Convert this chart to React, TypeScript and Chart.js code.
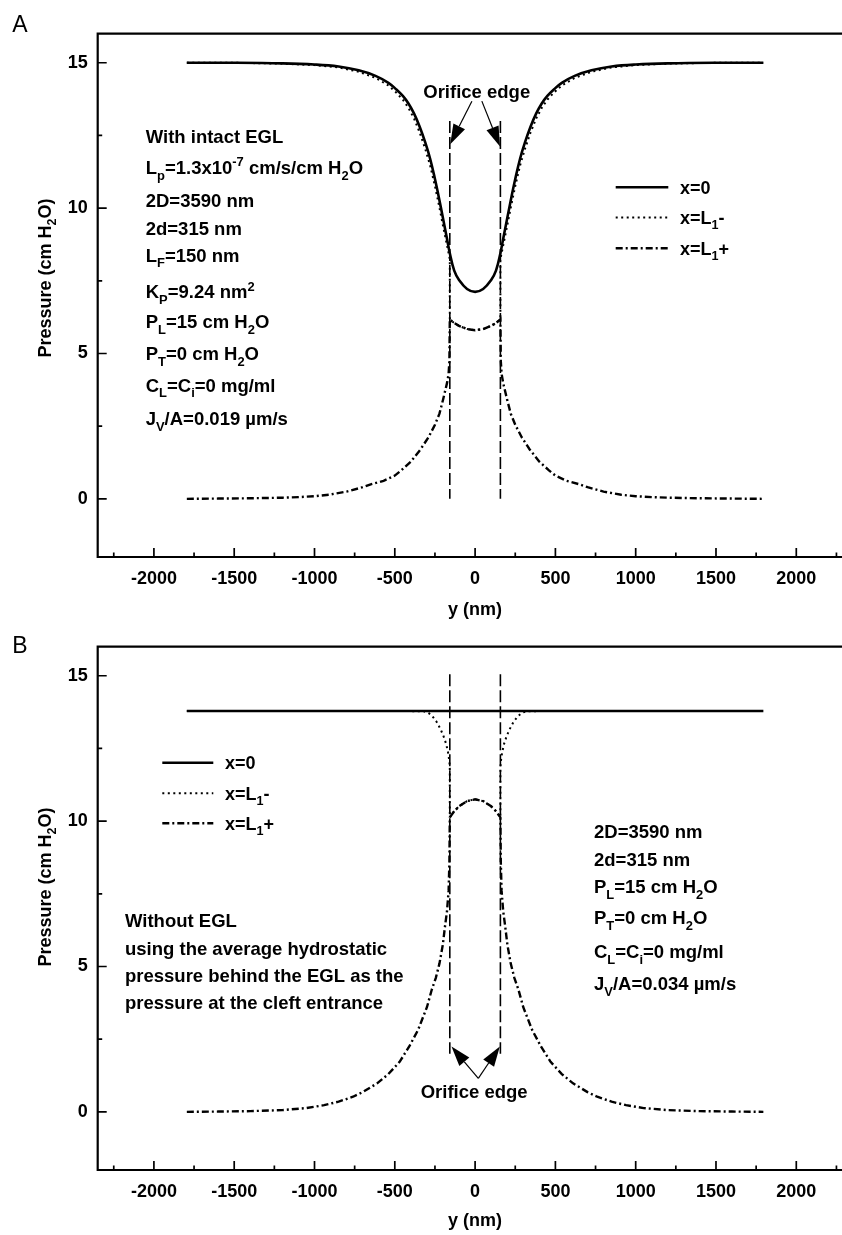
import React, { useEffect, useRef } from "react";
import { Chart, registerables } from "chart.js";

Chart.register(...registerables);

const FONT = '"Liberation Sans", Arial, Helvetica, sans-serif';

// ---- axes ----
const xRange = [-2350, 2350];
const yRange = [-2, 16];
const xTicks = [-2000, -1500, -1000, -500, 0, 500, 1000, 1500, 2000];
const xMinorTicks = [-2250, -1750, -1250, -750, -250, 250, 750, 1250, 1750, 2250];
const yTicks = [0, 5, 10, 15];
const yMinorTicks = [2.5, 7.5, 12.5];

// orifice edges, y = ±d (2d = 315 nm)
const orificeEdges = [-157.5, 157.5];
const orificeSpanA = [13.0, 0];
const orificeSpanB = [15.05, 2.0];

// ---- panel A: with intact EGL ----
const posA0 = [-1795, -1500, -1200, -1000, -850, -725, -620, -540, -490, -450, -415, -380, -345, -310, -280, -250, -225, -200, -175, -157.5, -130, -100, -50, 0, 50, 100, 130, 157.5, 175, 200, 225, 250, 280, 310, 345, 380, 415, 450, 490, 540, 620, 725, 850, 1000, 1200, 1500, 1795];
const valA0 = [15.0, 15.0, 14.98, 14.94, 14.87, 14.74, 14.55, 14.31, 14.08, 13.86, 13.6, 13.25, 12.8, 12.25, 11.7, 11.0, 10.35, 9.65, 8.95, 8.45, 7.85, 7.53, 7.22, 7.12, 7.22, 7.53, 7.85, 8.45, 8.95, 9.65, 10.35, 11.0, 11.7, 12.25, 12.8, 13.25, 13.6, 13.86, 14.08, 14.31, 14.55, 14.74, 14.87, 14.94, 14.98, 15.0, 15.0];

const posAMinus = [-1795, -1500, -1200, -1000, -850, -725, -620, -540, -490, -450, -415, -380, -345, -310, -280, -250, -225, -200, -175, -157.5, -157.5, -130, -100, -50, 0, 50, 100, 130, 157.5, 157.5, 175, 200, 225, 250, 280, 310, 345, 380, 415, 450, 490, 540, 620, 725, 850, 1000, 1200, 1500, 1795];
const valAMinus = [15.0, 15.0, 14.97, 14.92, 14.84, 14.69, 14.48, 14.22, 13.97, 13.73, 13.45, 13.08, 12.6, 12.03, 11.47, 10.76, 10.1, 9.4, 8.72, 8.25, 6.17, 6.05, 5.95, 5.84, 5.8, 5.84, 5.95, 6.05, 6.17, 8.25, 8.72, 9.4, 10.1, 10.76, 11.47, 12.03, 12.6, 13.08, 13.45, 13.73, 13.97, 14.22, 14.48, 14.69, 14.84, 14.92, 14.97, 15.0, 15.0];

const posAPlus = [-1795, -1600, -1400, -1200, -1100, -1000, -910, -800, -700, -650, -570, -500, -460, -400, -340, -290, -250, -222, -200, -175, -165, -160, -157.5, -130, -100, -50, 0, 50, 100, 130, 157.5, 160, 165, 175, 200, 222, 250, 290, 340, 400, 460, 500, 570, 650, 700, 800, 910, 1000, 1100, 1200, 1400, 1600, 1795];
const valAPlus = [0, 0.01, 0.02, 0.04, 0.06, 0.09, 0.14, 0.25, 0.4, 0.5, 0.62, 0.8, 0.98, 1.28, 1.7, 2.12, 2.55, 2.93, 3.4, 3.98, 4.3, 4.75, 6.17, 6.05, 5.95, 5.84, 5.8, 5.84, 5.95, 6.05, 6.17, 4.75, 4.3, 3.98, 3.4, 2.93, 2.55, 2.12, 1.7, 1.28, 0.98, 0.8, 0.62, 0.5, 0.4, 0.25, 0.14, 0.09, 0.06, 0.04, 0.02, 0.01, 0];

// ---- panel B: without EGL ----
const posB0 = [-1795, -900, 0, 900, 1795];
const valB0 = [13.79, 13.79, 13.79, 13.79, 13.79];

const posBMinus = [-1795, -1000, -500, -320, -290, -265, -240, -214, -195, -180, -168, -160, -157.5, -157.5, -130, -100, -50, 0, 50, 100, 130, 157.5, 157.5, 160, 168, 180, 195, 214, 240, 265, 290, 320, 500, 1000, 1795];
const valBMinus = [13.79, 13.79, 13.79, 13.78, 13.72, 13.6, 13.42, 13.15, 12.9, 12.65, 12.35, 12.05, 11.8, 10.13, 10.34, 10.51, 10.69, 10.75, 10.69, 10.51, 10.34, 10.13, 11.8, 12.05, 12.35, 12.65, 12.9, 13.15, 13.42, 13.6, 13.72, 13.78, 13.79, 13.79, 13.79];

const posBPlus = [-1795, -1600, -1400, -1200, -1050, -940, -850, -760, -700, -610, -540, -470, -410, -355, -300, -270, -245, -222, -201, -187, -175, -165, -160, -157.5, -130, -100, -50, 0, 50, 100, 130, 157.5, 160, 165, 175, 187, 201, 222, 245, 270, 300, 355, 410, 470, 540, 610, 700, 760, 850, 940, 1050, 1200, 1400, 1600, 1795];
const valBPlus = [0, 0.01, 0.025, 0.06, 0.13, 0.23, 0.35, 0.52, 0.68, 0.98, 1.3, 1.72, 2.25, 2.82, 3.6, 4.2, 4.6, 5.1, 5.75, 6.4, 6.9, 7.6, 8.6, 10.13, 10.34, 10.51, 10.69, 10.75, 10.69, 10.51, 10.34, 10.13, 8.6, 7.6, 6.9, 6.4, 5.75, 5.1, 4.6, 4.2, 3.6, 2.82, 2.25, 1.72, 1.3, 0.98, 0.68, 0.52, 0.35, 0.23, 0.13, 0.06, 0.025, 0.01, 0];

// ---- text ----
type Seg = [string, string]; // [text, "" | "sub" | "sup"]

const legendLabels: Seg[][] = [
  [["x=0", ""]],
  [["x=L", ""], ["1", "sub"], ["-", ""]],
  [["x=L", ""], ["1", "sub"], ["+", ""]],
];

const yTitle: Seg[] = [["Pressure (cm H", ""], ["2", "sub"], ["O)", ""]];
const xTitle: Seg[] = [["y (nm)", ""]];
const orificeText: Seg[] = [["Orifice edge", ""]];

const notesA: Seg[][] = [
  [["With intact EGL", ""]],
  [["L", ""], ["p", "sub"], ["=1.3x10", ""], ["-7", "sup"], [" cm/s/cm H", ""], ["2", "sub"], ["O", ""]],
  [["2D=3590 nm", ""]],
  [["2d=315 nm", ""]],
  [["L", ""], ["F", "sub"], ["=150 nm", ""]],
  [["K", ""], ["P", "sub"], ["=9.24 nm", ""], ["2", "sup"]],
  [["P", ""], ["L", "sub"], ["=15 cm H", ""], ["2", "sub"], ["O", ""]],
  [["P", ""], ["T", "sub"], ["=0 cm H", ""], ["2", "sub"], ["O", ""]],
  [["C", ""], ["L", "sub"], ["=C", ""], ["i", "sub"], ["=0 mg/ml", ""]],
  [["J", ""], ["V", "sub"], ["/A=0.019 µm/s", ""]],
];

const notesBLeft: Seg[][] = [
  [["Without EGL", ""]],
  [["using the average hydrostatic", ""]],
  [["pressure behind the EGL as the", ""]],
  [["pressure at the cleft entrance", ""]],
];

const notesBRight: Seg[][] = [
  [["2D=3590 nm", ""]],
  [["2d=315 nm", ""]],
  [["P", ""], ["L", "sub"], ["=15 cm H", ""], ["2", "sub"], ["O", ""]],
  [["P", ""], ["T", "sub"], ["=0 cm H", ""], ["2", "sub"], ["O", ""]],
  [["C", ""], ["L", "sub"], ["=C", ""], ["i", "sub"], ["=0 mg/ml", ""]],
  [["J", ""], ["V", "sub"], ["/A=0.034 µm/s", ""]],
];

type Style = "solid" | "dot" | "dashdot";

interface Series {
  pos: number[];
  val: number[];
  style: Style;
  tension: number;
}

interface Block {
  lines: Seg[][];
  x: number;
  ys: number[];
}

interface Arrow {
  tail: [number, number];
  tip: [number, number];
}

interface PanelSpec {
  letter: string;
  letterY: number;
  width: number;
  height: number;
  padTop: number;
  xAxisHeight: number;
  series: Series[];
  orificeSpan: number[];
  blocks: Block[];
  legend: { x0: number; x1: number; tx: number; ys: number[] };
  yTitleY: number;
  xTitleY: number;
  orificeLabel: { x: number; y: number };
  arrows: Arrow[];
}

const LINE_STYLES: Record<Style, { w: number; dash: number[] }> = {
  solid: { w: 2.6, dash: [] },
  dot: { w: 2, dash: [2, 3.5] },
  dashdot: { w: 2.4, dash: [7, 3, 2, 3] },
};

const TXT = 18.5;

function richWidth(ctx: CanvasRenderingContext2D, segs: Seg[], size: number) {
  let w = 0;
  for (const [t, k] of segs) {
    ctx.font = `bold ${k ? size * 0.7 : size}px ${FONT}`;
    w += ctx.measureText(t).width;
  }
  return w;
}

function drawRich(
  ctx: CanvasRenderingContext2D,
  segs: Seg[],
  x: number,
  y: number,
  size: number,
  align: "left" | "center" = "left"
) {
  ctx.textAlign = "left";
  ctx.textBaseline = "alphabetic";
  let cx = align === "center" ? x - richWidth(ctx, segs, size) / 2 : x;
  for (const [t, k] of segs) {
    const s = k ? size * 0.7 : size;
    ctx.font = `bold ${s}px ${FONT}`;
    const dy = k === "sub" ? size * 0.3 : k === "sup" ? -size * 0.42 : 0;
    ctx.fillText(t, cx, y + dy);
    cx += ctx.measureText(t).width;
  }
}

function drawArrow(ctx: CanvasRenderingContext2D, x0: number, y0: number, x1: number, y1: number) {
  const len = Math.hypot(x1 - x0, y1 - y0);
  const ux = (x1 - x0) / len;
  const uy = (y1 - y0) / len;
  const head = 20;
  const half = 6.5;
  const bx = x1 - ux * head;
  const by = y1 - uy * head;
  ctx.lineWidth = 1.2;
  ctx.setLineDash([]);
  ctx.beginPath();
  ctx.moveTo(x0, y0);
  ctx.lineTo(bx, by);
  ctx.stroke();
  ctx.beginPath();
  ctx.moveTo(x1, y1);
  ctx.lineTo(bx - uy * half, by + ux * half);
  ctx.lineTo(bx + uy * half, by - ux * half);
  ctx.closePath();
  ctx.fill();
}

function makeDecor(spec: PanelSpec) {
  return {
    id: "decor" + spec.letter,
    afterDraw(chart: any) {
      const ctx: CanvasRenderingContext2D = chart.ctx;
      const { left, right, top, bottom } = chart.chartArea;
      const xs = chart.scales.x;
      const ys = chart.scales.y;
      ctx.save();
      ctx.strokeStyle = "#000";
      ctx.fillStyle = "#000";
      ctx.setLineDash([]);

      // frame
      ctx.lineWidth = 2.2;
      ctx.beginPath();
      ctx.moveTo(left, top);
      ctx.lineTo(right, top);
      ctx.lineTo(right, bottom);
      ctx.lineTo(left, bottom);
      ctx.closePath();
      ctx.stroke();

      // inward tick marks
      ctx.lineWidth = 1.7;
      ctx.beginPath();
      for (const v of xTicks) {
        const p = xs.getPixelForValue(v);
        ctx.moveTo(p, bottom);
        ctx.lineTo(p, bottom - 9);
      }
      for (const v of xMinorTicks) {
        const p = xs.getPixelForValue(v);
        ctx.moveTo(p, bottom);
        ctx.lineTo(p, bottom - 4.5);
      }
      for (const v of yTicks) {
        const p = ys.getPixelForValue(v);
        ctx.moveTo(left, p);
        ctx.lineTo(left + 9, p);
      }
      for (const v of yMinorTicks) {
        const p = ys.getPixelForValue(v);
        ctx.moveTo(left, p);
        ctx.lineTo(left + 4.5, p);
      }
      ctx.stroke();

      // panel letter
      ctx.font = `23px ${FONT}`;
      ctx.textAlign = "center";
      ctx.textBaseline = "alphabetic";
      ctx.fillText(spec.letter, 20, spec.letterY);

      // axis titles
      drawRich(ctx, xTitle, xs.getPixelForValue(0), spec.xTitleY, TXT - 0.5, "center");
      ctx.save();
      ctx.translate(51, spec.yTitleY);
      ctx.rotate(-Math.PI / 2);
      drawRich(ctx, yTitle, 0, 0, TXT - 0.5, "center");
      ctx.restore();

      // parameter notes
      for (const b of spec.blocks) {
        b.lines.forEach((segs, i) => drawRich(ctx, segs, b.x, b.ys[i], TXT));
      }

      // legend
      const lg = spec.legend;
      spec.series.forEach((s, i) => {
        const st = LINE_STYLES[s.style];
        ctx.lineWidth = st.w;
        ctx.setLineDash(st.dash);
        ctx.beginPath();
        ctx.moveTo(lg.x0, lg.ys[i]);
        ctx.lineTo(lg.x1, lg.ys[i]);
        ctx.stroke();
        ctx.setLineDash([]);
        drawRich(ctx, legendLabels[i], lg.tx, lg.ys[i] + 6.5, TXT - 0.5);
      });

      // orifice edge label and arrows
      const ol = spec.orificeLabel;
      drawRich(ctx, orificeText, xs.getPixelForValue(ol.x), ys.getPixelForValue(ol.y) + 6.6, TXT, "center");
      for (const a of spec.arrows) {
        drawArrow(
          ctx,
          xs.getPixelForValue(a.tail[0]),
          ys.getPixelForValue(a.tail[1]),
          xs.getPixelForValue(a.tip[0]),
          ys.getPixelForValue(a.tip[1])
        );
      }
      ctx.restore();
    },
  };
}

function makeChart(canvas: HTMLCanvasElement, spec: PanelSpec) {
  const datasets: any[] = spec.series.map((s) => ({
    data: s.pos.map((p, i) => ({ x: p, y: s.val[i] })),
    borderColor: "#000",
    borderWidth: LINE_STYLES[s.style].w,
    borderDash: LINE_STYLES[s.style].dash,
    pointRadius: 0,
    tension: s.tension,
    fill: false,
  }));
  for (const e of orificeEdges) {
    datasets.push({
      data: spec.orificeSpan.map((v) => ({ x: e, y: v })),
      borderColor: "#000",
      borderWidth: 1.6,
      borderDash: [12, 4],
      pointRadius: 0,
      fill: false,
    });
  }

  const tickFont = { family: FONT, size: 18, weight: "bold" as const };
  const plain = (v: any) => String(v);

  return new Chart(canvas, {
    type: "line",
    data: { datasets },
    options: {
      animation: false,
      responsive: false,
      maintainAspectRatio: false,
      devicePixelRatio: 1,
      layout: { padding: { left: 0, right: 17.5, top: spec.padTop, bottom: 0 } },
      plugins: { legend: { display: false }, tooltip: { enabled: false } },
      scales: {
        x: {
          type: "linear",
          min: xRange[0],
          max: xRange[1],
          afterBuildTicks: (s: any) => {
            s.ticks = xTicks.map((v) => ({ value: v }));
          },
          afterFit: (s: any) => {
            s.height = spec.xAxisHeight;
          },
          grid: { display: false, drawTicks: false },
          border: { display: false },
          ticks: { padding: 11, font: tickFont, color: "#000", maxRotation: 0, autoSkip: false, callback: plain },
        },
        y: {
          type: "linear",
          min: yRange[0],
          max: yRange[1],
          afterBuildTicks: (s: any) => {
            s.ticks = yTicks.map((v) => ({ value: v }));
          },
          afterFit: (s: any) => {
            s.width = 97.7;
          },
          grid: { display: false, drawTicks: false },
          border: { display: false },
          ticks: { padding: 10, font: tickFont, color: "#000", autoSkip: false, callback: plain },
        },
      },
    },
    plugins: [makeDecor(spec)],
  } as any);
}

const panelA: PanelSpec = {
  letter: "A",
  letterY: 32,
  width: 870,
  height: 620,
  padTop: 33.7,
  xAxisHeight: 63,
  series: [
    { pos: posA0, val: valA0, style: "solid", tension: 0.4 },
    { pos: posAMinus, val: valAMinus, style: "dot", tension: 0 },
    { pos: posAPlus, val: valAPlus, style: "dashdot", tension: 0 },
  ],
  orificeSpan: orificeSpanA,
  blocks: [
    { lines: notesA, x: 145.7, ys: [142.6, 174, 206.6, 235, 261.6, 298.3, 328.3, 360, 391.6, 425] },
  ],
  legend: { x0: 615.7, x1: 668.3, tx: 680, ys: [187.3, 217.5, 248.3] },
  yTitleY: 278,
  xTitleY: 614.8,
  orificeLabel: { x: 10, y: 14.02 },
  arrows: [
    { tail: [-20, 13.68], tip: [-155, 12.2] },
    { tail: [42, 13.68], tip: [155, 12.12] },
  ],
};

const panelB: PanelSpec = {
  letter: "B",
  letterY: 32.7,
  width: 870,
  height: 615,
  padTop: 26.7,
  xAxisHeight: 65,
  series: [
    { pos: posB0, val: valB0, style: "solid", tension: 0 },
    { pos: posBMinus, val: valBMinus, style: "dot", tension: 0 },
    { pos: posBPlus, val: valBPlus, style: "dashdot", tension: 0 },
  ],
  orificeSpan: orificeSpanB,
  blocks: [
    { lines: notesBLeft, x: 125, ys: [307.3, 335, 361.6, 389.3] },
    { lines: notesBRight, x: 594, ys: [218.3, 245.6, 273.3, 304, 338, 370] },
  ],
  legend: { x0: 162.3, x1: 213.3, tx: 225, ys: [142.7, 173.3, 203.3] },
  yTitleY: 267,
  xTitleY: 606.4,
  orificeLabel: { x: -6, y: 0.71 },
  arrows: [
    { tail: [20, 1.15], tip: [-147, 2.25] },
    { tail: [20, 1.15], tip: [154, 2.25] },
  ],
};

function Panel({ spec, top }: { spec: PanelSpec; top: number }) {
  const ref = useRef<HTMLCanvasElement | null>(null);
  useEffect(() => {
    if (!ref.current) return;
    const chart = makeChart(ref.current, spec);
    return () => chart.destroy();
  }, [spec]);
  return (
    <canvas
      ref={ref}
      width={spec.width}
      height={spec.height}
      style={{ position: "absolute", left: 0, top, width: spec.width, height: spec.height }}
    />
  );
}

export default function App() {
  return (
    <div
      style={{
        position: "absolute",
        left: 0,
        top: 0,
        width: 842,
        height: 1235,
        overflow: "hidden",
        background: "#fff",
      }}
    >
      <Panel spec={panelA} top={0} />
      <Panel spec={panelB} top={620} />
    </div>
  );
}
